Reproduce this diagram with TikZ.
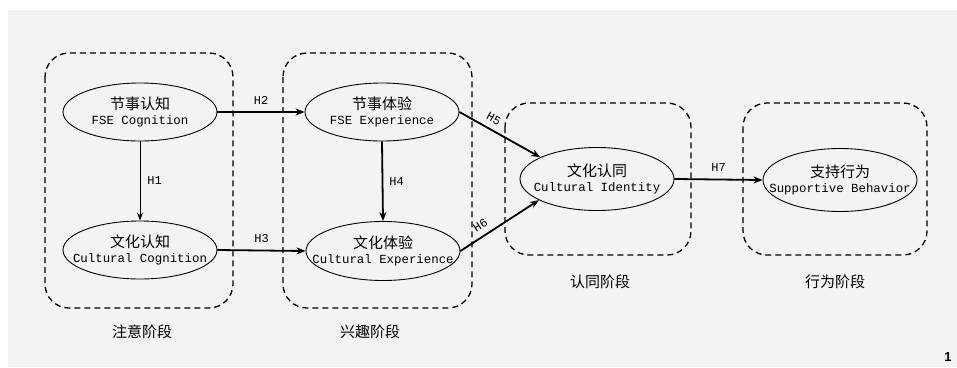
\documentclass[tikz,border=0pt]{standalone}
\usepackage{fontspec}
\usetikzlibrary{arrows.meta,shapes.geometric}
\newfontfamily\cjk{Noto Sans CJK SC}
\newfontfamily\monof{Liberation Mono}
\newfontfamily\sansb{Liberation Sans}
\definecolor{panel}{HTML}{F3F3F3}
\tikzset{
  stagebox/.style={draw, dashed, dash pattern=on 6pt off 4pt, line width=1.3pt, rounded corners=24pt},
  ell/.style={draw, ellipse, line width=0.9pt, minimum width=154pt, minimum height=58pt, inner sep=0pt},
  elltext/.style={align=center, inner sep=0pt, font=\monof\fontsize{12.4}{15}\selectfont},
  stagelabel/.style={font=\cjk\fontsize{15}{18}\selectfont, inner sep=0pt},
  hlabel/.style={font=\monof\fontsize{12}{14}\selectfont, inner sep=1pt},
  thickarrow/.style={-{Stealth[length=9pt,width=7pt]}, line width=1.8pt},
  thinarrow/.style={-{Stealth[length=8pt,width=6pt]}, line width=0.9pt},
}
\begin{document}
\begin{tikzpicture}[x=1pt,y=-1pt]
\useasboundingbox (0,0) rectangle (957,367);
\fill[white] (0,0) rectangle (957,367);
\fill[panel] (8,10) rectangle (957,367);

% stage boxes
\draw[stagebox] (45,53) rectangle (233,308);
\draw[stagebox] (283,53) rectangle (472,308);
\draw[stagebox] (505,103) rectangle (691,255);
\draw[stagebox] (743,103) rectangle (927,255);

% stage labels
\node[stagelabel] (s1) at (142,332) {注意阶段};
\node[stagelabel] (s2) at (370,332) {兴趣阶段};
\node[stagelabel] (s3) at (600,282) {认同阶段};
\node[stagelabel] (s4) at (835,282) {行为阶段};

% ellipses
\node[ell] (e1) at (140,112) {};
\node[ell] (e2) at (140,250) {};
\node[ell] (e3) at (382,112) {};
\node[ell, minimum height=59pt] (e4) at (383,251) {};
\node[ell, minimum height=63pt] (e5) at (597,179) {};
\node[ell, minimum height=63pt] (e6) at (840,180) {};

\node[elltext] (t1) at (e1) {{\cjk\fontsize{15}{18}\selectfont 节事认知}\\FSE Cognition};
\node[elltext] (t2) at (e2) {{\cjk\fontsize{15}{18}\selectfont 文化认知}\\Cultural Cognition};
\node[elltext] (t3) at (e3) {{\cjk\fontsize{15}{18}\selectfont 节事体验}\\FSE Experience};
\node[elltext] (t4) at (e4) {{\cjk\fontsize{15}{18}\selectfont 文化体验}\\Cultural Experience};
\node[elltext] (t5) at (e5) {{\cjk\fontsize{15}{18}\selectfont 文化认同}\\Cultural Identity};
\node[elltext] (t6) at (e6) {{\cjk\fontsize{15}{18}\selectfont 支持行为}\\Supportive Behavior};

% connectors
\draw[thinarrow] (e1.south) -- node[hlabel, right=6pt] (h1) {H1} (e2.north);
\draw[thickarrow] (e1.east) -- node[hlabel, above=6pt] (h2) {H2} (e3.west);
\draw[thickarrow] (e2.east) -- node[hlabel, above=6pt] (h3) {H3} (e4.west);
\draw[thickarrow] (e3.south) -- node[hlabel, right=5pt] (h4) {H4} (e4.north);
\draw[thickarrow] (e3.east) -- node[hlabel, pos=0.36, above=5pt, sloped] (h5) {H5} (e5.159);
\draw[thickarrow] (e4.east) -- node[hlabel, pos=0.33, above=5pt, sloped] (h6) {H6} (e5.200);
\draw[thickarrow] (e5.east) -- node[hlabel, above=6pt] (h7) {H7} (e6.west);

\node[font=\sansb\bfseries\fontsize{13}{15}\selectfont, inner sep=0pt] (pg) at (948,357) {1};
\end{tikzpicture}
\end{document}
